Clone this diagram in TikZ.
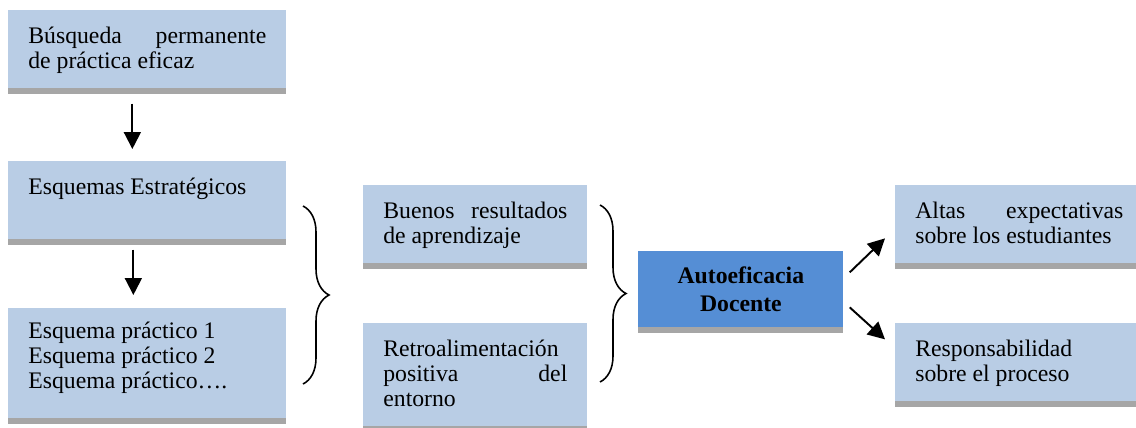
\documentclass[tikz,border=0pt]{standalone}
\usepackage{fontspec}
\setmainfont{Liberation Serif}
\usetikzlibrary{arrows.meta,shadows,decorations.pathreplacing}
\definecolor{boxblue}{HTML}{B9CDE5}
\definecolor{coreblue}{HTML}{558ED5}
\definecolor{boxshadow}{HTML}{A6A6A6}

\begin{document}
\begin{tikzpicture}
\tikzstyle{lifted}=[drop shadow={shadow xshift=0cm, shadow yshift=-0.11cm, fill=boxshadow, opacity=1}]
\tikzstyle{box}=[rectangle, anchor=north west, fill=boxblue, inner xsep=0.4cm, inner ysep=0pt, align=justify, font=\fontsize{13.5}{14.4}\selectfont, text height=0.66cm, lifted]
\tikzstyle{core}=[rectangle, anchor=north west, fill=coreblue, minimum width=4.1cm, minimum height=1.52cm, inner sep=0pt, align=center, font=\fontsize{13.5}{16}\selectfont\bfseries, lifted]
\tikzstyle{arrow}=[draw, line width=1.1pt, -{Triangle[length=0.34cm,width=0.34cm]}]
\tikzstyle{bracket}=[draw, line width=0.9pt, decorate, decoration={brace, amplitude=0.52cm}]

\useasboundingbox (0,0) rectangle (22.72,-8.54);

% Left column
\node[box, text width=4.76cm, text depth=0.9cm] (busqueda) at (0.16,-0.2) {Búsqueda permanente\linebreak de práctica eficaz};
\node[box, text width=4.76cm, text depth=0.9cm] (estrategicos) at (0.16,-3.22) {Esquemas Estratégicos};
\node[box, text width=4.76cm, text height=0.6cm, text depth=1.6cm] (practicos) at (0.16,-6.16) {Esquema práctico 1\\ Esquema práctico 2\\ Esquema práctico….};

% Middle column
\node[box, text width=3.68cm, text depth=0.9cm] (resultados) at (7.26,-3.7) {Buenos resultados\linebreak de aprendizaje};
\node[box, text width=3.68cm, text depth=1.4cm] (retro) at (7.26,-6.46) {Retroalimentación\\ positiva del\linebreak entorno};

% Center
\node[core] (autoeficacia) at (12.76,-5.02) {Autoeficacia\\ Docente};

% Right column
\node[box, text width=4.16cm, text depth=0.9cm] (expectativas) at (17.9,-3.7) {Altas expectativas\linebreak sobre los estudiantes};
\node[box, text width=4.16cm, text depth=0.9cm] (responsabilidad) at (17.9,-6.46) {Responsabilidad\\ sobre el proceso};

% Arrows
\draw[arrow, shorten <=0.3cm, shorten >=0.24cm] ([xshift=-0.3cm]busqueda.south) -- ([xshift=-0.3cm]estrategicos.north);
\draw[arrow, shorten <=0.2cm, shorten >=0.26cm] ([xshift=-0.28cm]estrategicos.south) -- ([xshift=-0.28cm]practicos.north);
\draw[arrow] ([xshift=0.12cm,yshift=0.34cm]autoeficacia.east) -- ([xshift=-0.2cm,yshift=-0.28cm]expectativas.west);
\draw[arrow] ([xshift=0.12cm,yshift=-0.36cm]autoeficacia.east) -- ([xshift=-0.2cm,yshift=0.46cm]responsabilidad.west);

% Braces
\draw[bracket] (6.06,-4.12) -- (6.06,-7.68);
\draw[bracket] (12,-4.1) -- (12,-7.64);
\end{tikzpicture}
\end{document}
